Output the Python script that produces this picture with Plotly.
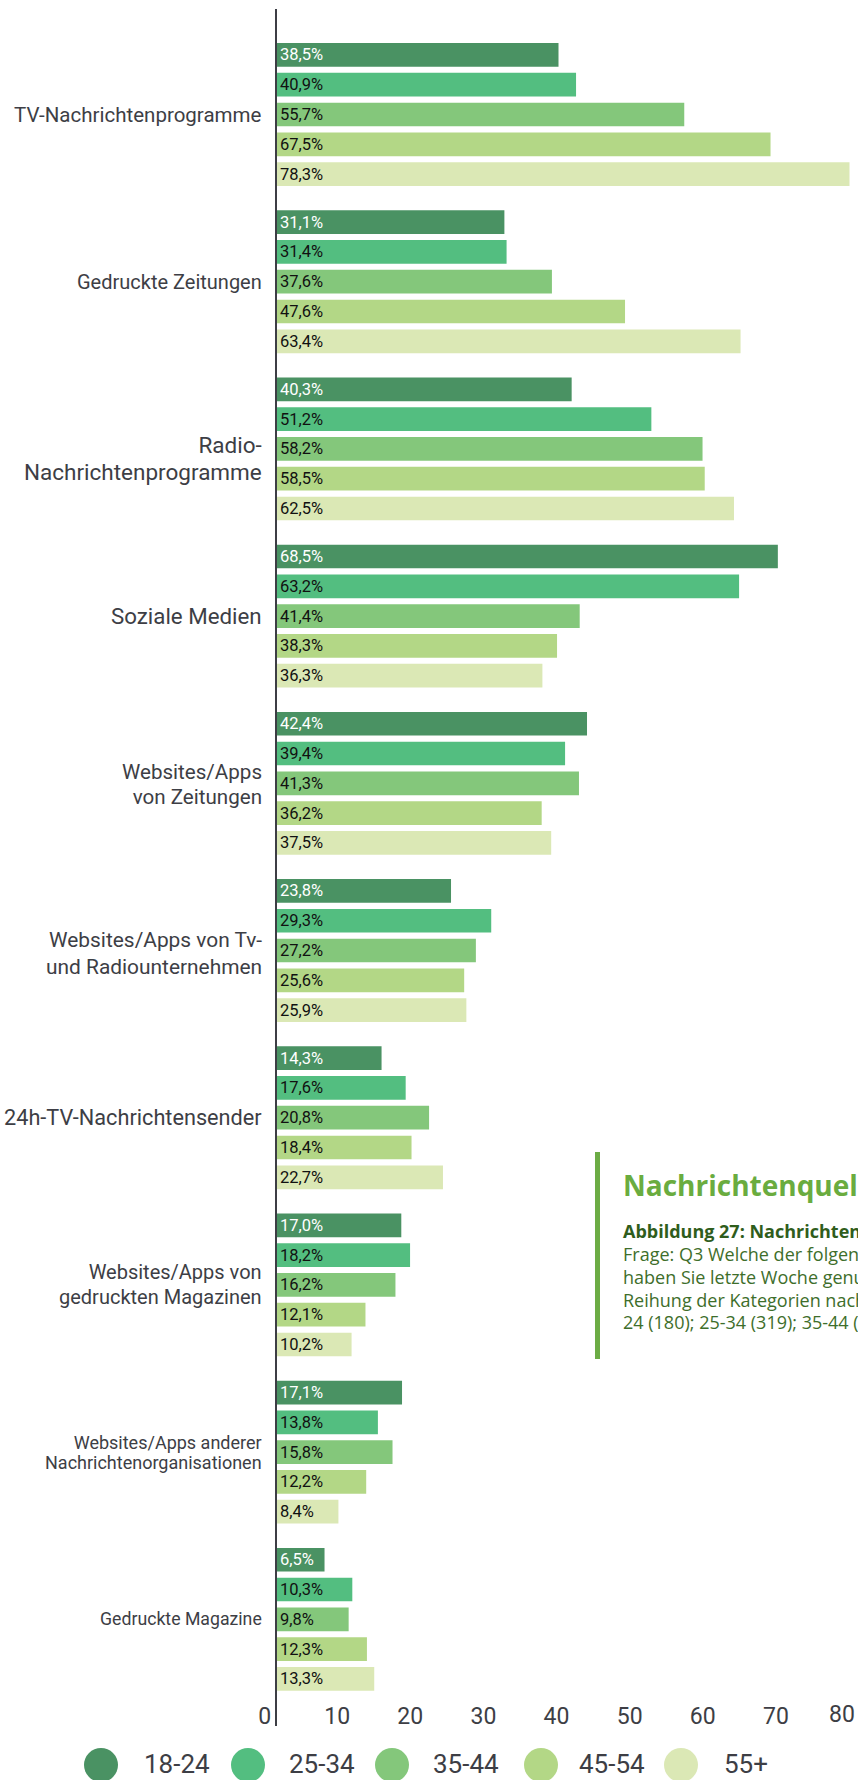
import plotly.graph_objects as go

# ---------------- data ----------------
categories = [
    "TV-Nachrichtenprogramme",
    "Gedruckte Zeitungen",
    "Radio-Nachrichtenprogramme",
    "Soziale Medien",
    "Websites/Apps von Zeitungen",
    "Websites/Apps von Tv- und Radiounternehmen",
    "24h-TV-Nachrichtensender",
    "Websites/Apps von gedruckten Magazinen",
    "Websites/Apps anderer Nachrichtenorganisationen",
    "Gedruckte Magazine",
]
category_lines = [
    ["TV-Nachrichtenprogramme"],
    ["Gedruckte Zeitungen"],
    ["Radio-", "Nachrichtenprogramme"],
    ["Soziale Medien"],
    ["Websites/Apps", "von Zeitungen"],
    ["Websites/Apps von Tv-", "und Radiounternehmen"],
    ["24h-TV-Nachrichtensender"],
    ["Websites/Apps von", "gedruckten Magazinen"],
    ["Websites/Apps anderer", "Nachrichtenorganisationen"],
    ["Gedruckte Magazine"],
]
age_groups = ["18-24", "25-34", "35-44", "45-54", "55+"]
values_18_24 = [38.5, 31.1, 40.3, 68.5, 42.4, 23.8, 14.3, 17.0, 17.1, 6.5]
values_25_34 = [40.9, 31.4, 51.2, 63.2, 39.4, 29.3, 17.6, 18.2, 13.8, 10.3]
values_35_44 = [55.7, 37.6, 58.2, 41.4, 41.3, 27.2, 20.8, 16.2, 15.8, 9.8]
values_45_54 = [67.5, 47.6, 58.5, 38.3, 36.2, 25.6, 18.4, 12.1, 12.2, 12.3]
values_55_plus = [78.3, 63.4, 62.5, 36.3, 37.5, 25.9, 22.7, 10.2, 8.4, 13.3]
x_ticks = [0, 10, 20, 30, 40, 50, 60, 70, 80]

title_text = "Nachrichtenquellen nach Alter"
caption_lines = [
    "<b>Abbildung 27: Nachrichtenquellen nach Alter</b>",
    "Frage: Q3 Welche der folgenden, wenn überhaupt,",
    "haben Sie letzte Woche genutzt als Quelle für Nachrichten?",
    "Reihung der Kategorien nach Gesamtwert. Basis: 18-",
    "24 (180); 25-34 (319); 35-44 (374); 45-54 (398); 55+ (727)",
]

# ---------------- styles ----------------
series = [values_18_24, values_25_34, values_35_44, values_45_54, values_55_plus]
colors = ["#4a9263", "#53be80", "#84c77b", "#b3d786", "#dbe8b5"]
text_colors = ["#ffffff", "#111111", "#111111", "#111111", "#111111"]
label_sizes = [20.5, 20, 22.5, 22.3, 20.6, 20.9, 21.7, 20, 18, 17.7]
label_line_gap = [0, 0, 26.5, 0, 25, 26.5, 0, 25, 20, 0]
label_shift_down = [0, 0, 10, 0, 1.5, 3, 0, 0, 0, 0]
gray = "#3d3e45"
FONT = "Roboto, Arial, sans-serif"
CAP_FONT = "Open Sans, Lato, sans-serif"

W, H = 858, 1780
L, R, T, B = 277, 0, 9, 54
PW, PH = W - L - R, H - T - B
LABEL_RIGHT = 263


def px_x(x):
    return (x - L) / PW


def px_y(y):
    return (H - B - y) / PH


def fmt(v):
    return ("%.1f" % v).replace(".", ",") + "%"


fig = go.Figure()
for name, vals, col, tcol in zip(age_groups, series, colors, text_colors):
    fig.add_trace(go.Bar(
        y=categories, x=vals, name=name, orientation="h",
        marker=dict(color=col, line=dict(width=0)),
        text=[fmt(v) for v in vals],
        textposition="inside", insidetextanchor="start", textangle=0,
        textfont=dict(family=FONT, size=16.5, color=tcol),
        constraintext="none",
        showlegend=False,
    ))

x_per_px = 78.3 / (849.5 - L)
tick_text = [str(t) for t in x_ticks]
tick_text[0] = tick_text[0] + "\u00a0"
fig.update_layout(
    width=W, height=H,
    margin=dict(l=L, r=R, t=T, b=B, pad=0),
    paper_bgcolor="white", plot_bgcolor="white",
    barmode="group", bargap=0.109, bargroupgap=0.205,
    font=dict(family=FONT, color=gray),
    xaxis=dict(
        range=[0, PW * x_per_px],
        tickvals=x_ticks, ticktext=tick_text,
        ticks="", showgrid=False, zeroline=False, showline=False,
        ticklabelposition="inside left", ticklabeloverflow="allow",
        ticklabelstandoff=-9,
        tickfont=dict(family=FONT, size=23, color=gray),
    ),
    yaxis=dict(
        type="category", categoryorder="array", categoryarray=categories,
        range=[9.638, -0.631],
        showticklabels=False, ticks="",
        showgrid=False, zeroline=False,
        showline=True, linecolor=gray, linewidth=2,
    ),
)

# category labels (per-label size and line spacing)
for cat, lines, sz, gap, shift in zip(categories, category_lines, label_sizes,
                                      label_line_gap, label_shift_down):
    base = gap / 1.3 if len(lines) > 1 else sz
    txt = "<br>".join('<span style="font-size:%spx">%s</span>' % (sz, ln) for ln in lines)
    fig.add_annotation(
        xref="paper", yref="y", x=0, y=cat, xanchor="right", yanchor="middle",
        xshift=-(L - LABEL_RIGHT), yshift=-shift, text=txt, align="right",
        showarrow=False, borderpad=0,
        font=dict(family=FONT, size=base, color=gray),
    )

# "80" tick label (tick lies beyond the visible plot edge)
fig.add_annotation(
    xref="paper", yref="paper", x=1, y=px_y(1714), xanchor="right", yanchor="middle",
    xshift=-1, text=tick_text[-1], showarrow=False,
    font=dict(family=FONT, size=23, color=gray),
)

# custom legend with large circles
legend_circle_x = [101, 248, 392, 541, 681]
legend_text_x = [142, 287, 431, 577, 722]
for name, col, cx, tx in zip(age_groups, colors, legend_circle_x, legend_text_x):
    fig.add_shape(type="circle", xref="paper", yref="paper",
                  x0=px_x(cx - 17), x1=px_x(cx + 17), y0=px_y(1782), y1=px_y(1748),
                  fillcolor=col, line=dict(width=0), layer="above")
    fig.add_annotation(xref="paper", yref="paper", x=px_x(tx), y=px_y(1764),
                       xanchor="left", yanchor="middle", text=name, showarrow=False,
                       font=dict(family=FONT, size=26, color=gray))

# caption box on the right (partly outside the visible area)
fig.add_shape(type="line", xref="paper", yref="paper",
              x0=px_x(597.5), x1=px_x(597.5), y0=px_y(1359), y1=px_y(1152),
              line=dict(color="#6cac45", width=5))
fig.add_annotation(xref="paper", yref="paper", x=px_x(621), y=px_y(1185),
                   xanchor="left", yanchor="middle", text="<b>%s</b>" % title_text,
                   showarrow=False, align="left",
                   font=dict(family=CAP_FONT, size=28, color="#6aac3f"))
cap_y = [1231, 1254, 1277, 1300, 1322]
for i, (ln, yy) in enumerate(zip(caption_lines, cap_y)):
    fig.add_annotation(xref="paper", yref="paper", x=px_x(621), y=px_y(yy),
                       xanchor="left", yanchor="middle", text=ln,
                       showarrow=False, align="left",
                       font=dict(family=CAP_FONT, size=18,
                                 color="#2f5d1c" if i == 0 else "#3e6e2b"))

fig.write_html(
    "out.html",
    config={"displayModeBar": False},
    post_script="document.body.style.margin='0';document.body.style.padding='0';"
                "document.body.style.overflow='hidden';",
)
